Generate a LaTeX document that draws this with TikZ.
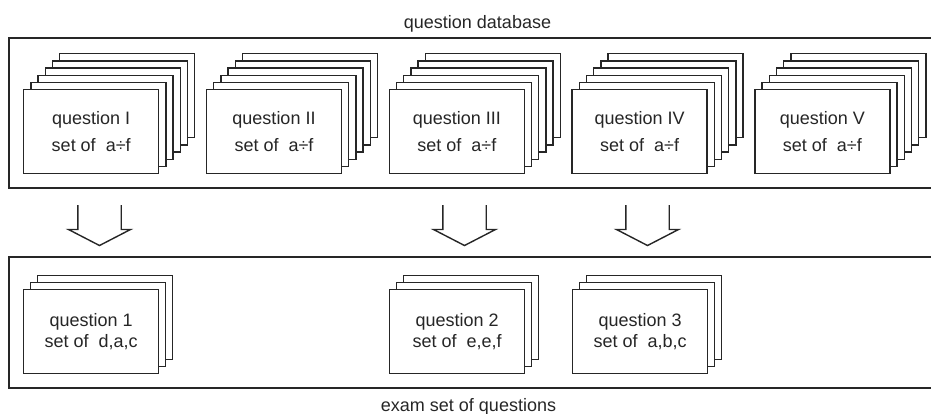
\documentclass[tikz,border=0pt]{standalone}
\usepackage{fontspec}
\setmainfont{Liberation Sans}
\usetikzlibrary{calc}
\begin{document}
\begin{tikzpicture}[x=1pt,y=-1pt,
  ln/.style={line width=1.4pt, draw=black!85},
  card/.style={ln, fill=white, minimum width=135pt, minimum height=84pt, inner sep=0pt,
    anchor=north west, align=center, font=\fontsize{18}{26.5}\selectfont, text=black!85},
  cardb/.style={card, font=\fontsize{18}{21.7}\selectfont},
  lbl/.style={font=\fontsize{18}{20}\selectfont, text=black!85, anchor=base, inner sep=0pt},
  blockarrow/.pic={\draw[ln, line join=miter] (-21.7,0) -- (-21.7,24.5) -- (-31,24.5) -- (0,40.5) -- (31,24.5) -- (21.7,24.5) -- (21.7,0);}]
\useasboundingbox (0,0) rectangle (931,413);
% labels
\node[lbl] (dbl) at (477.5,28) {question database};
\node[lbl] (exl) at (468.5,411) {exam set of questions};
% outer boxes (open to the right edge)
\draw[ln] (940,38) -- (9,38) -- (9,188) -- (940,188);
\draw[ln] (940,257) -- (9,257) -- (9,388) -- (940,388);
% question database stacks
\foreach \i/\t in {0/I,1/II,2/III,3/IV,4/V} {
  \pgfmathsetmacro\xl{23+182.8*\i}
  \foreach \k in {5,4,...,1} \node[card] (q\i-\k) at ({\xl+7.2*\k},{89-7.2*\k}) {};
  \node[card] (q\i) at (\xl,89) {question \t\\set of\ \ a÷f};
}
% arrows
\pic at (99.5,205) {blockarrow};
\pic at (464.5,205) {blockarrow};
\pic at (647.5,205) {blockarrow};
% exam set stacks
\foreach \xl/\n/\s in {23/1/{d,a,c},389/2/{e,e,f},572/3/{a,b,c}} {
  \foreach \k in {2,1} \node[cardb] (b\n-\k) at ({\xl+7*\k},{289-7*\k}) {};
  \node[cardb] (b\n) at (\xl,289) {question \n\\set of\ \ \s};
}
\end{tikzpicture}
\end{document}
